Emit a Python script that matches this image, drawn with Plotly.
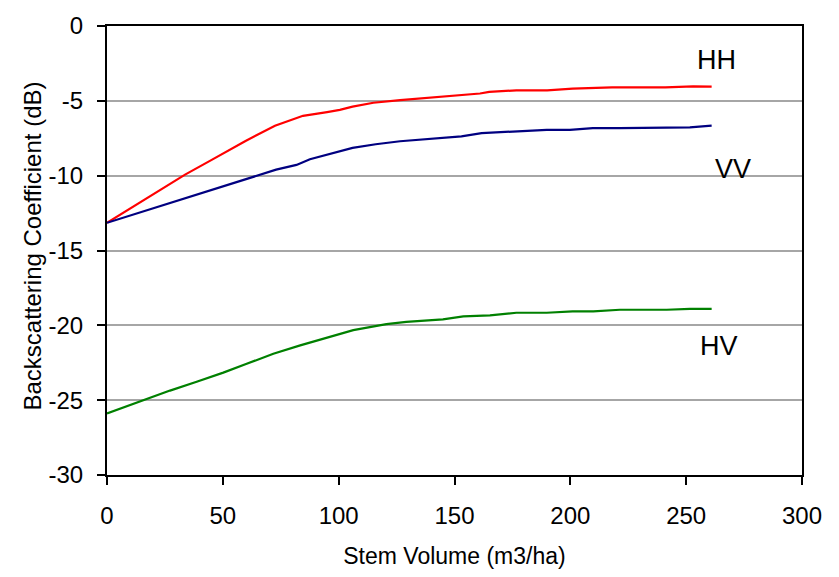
import plotly.graph_objects as go

# Stem volume (m3/ha) and backscattering (dB)
hh_x = [0, 10, 20, 33.7, 45, 59.6, 72.5, 84.6, 95, 100.5, 106, 115, 126.5, 140, 152, 161, 165, 176.7, 190, 201, 218, 241, 253, 261]
hh_y = [-13.15, -12.2, -11.24, -9.93, -8.96, -7.7, -6.66, -6.0, -5.75, -5.6, -5.39, -5.13, -4.95, -4.78, -4.6, -4.51, -4.4, -4.3, -4.3, -4.19, -4.1, -4.1, -4.03, -4.05]

vv_x = [0, 32.9, 60.3, 73, 81.8, 87.6, 106, 116, 126.5, 145, 153, 161.7, 171, 178.6, 189.8, 199.8, 209.7, 221.3, 241.6, 251.6, 261]
vv_y = [-13.15, -11.57, -10.26, -9.6, -9.28, -8.9, -8.14, -7.9, -7.7, -7.49, -7.38, -7.16, -7.09, -7.05, -6.94, -6.94, -6.83, -6.83, -6.77, -6.77, -6.66]

hv_x = [0, 15.7, 27.2, 38.7, 50.2, 60.3, 71.8, 83.4, 89.1, 99.2, 106.3, 120.6, 129.2, 145, 153.8, 165.3, 176.7, 189.8, 201, 209.9, 221.4, 241.6, 251.6, 261]
hv_y = [-25.89, -25.0, -24.36, -23.77, -23.16, -22.57, -21.9, -21.34, -21.08, -20.6, -20.32, -19.92, -19.77, -19.6, -19.4, -19.33, -19.16, -19.16, -19.07, -19.07, -18.96, -18.96, -18.9, -18.9]

x_ticks = [0, 50, 100, 150, 200, 250, 300]
y_ticks = [0, -5, -10, -15, -20, -25, -30]
y_tick_text = ["0", "-5", "-10", "-15", "-20", "-25", "-30"]

labels = ["HH", "VV", "HV"]
label_x = [263, 270, 264]
label_y = [-2.3, -9.55, -21.4]

font = "Liberation Sans, Arial, sans-serif"

fig = go.Figure()
fig.add_trace(go.Scatter(x=hh_x, y=hh_y, mode="lines", line=dict(color="#FF0000", width=2.2), name="HH"))
fig.add_trace(go.Scatter(x=vv_x, y=vv_y, mode="lines", line=dict(color="#000080", width=2.2), name="VV"))
fig.add_trace(go.Scatter(x=hv_x, y=hv_y, mode="lines", line=dict(color="#008000", width=2.2), name="HV"))

for t, lx, ly in zip(labels, label_x, label_y):
    fig.add_annotation(x=lx, y=ly, text=t, showarrow=False, xref="x", yref="y",
                       font=dict(family=font, size=27, color="black"))

# y-axis title
fig.add_annotation(x=-0.1065, y=0.511, xref="paper", yref="paper", text="Backscattering Coefficient (dB)",
                   textangle=-90, showarrow=False, xanchor="center", yanchor="middle",
                   font=dict(family=font, size=24, color="black"))

fig.update_layout(
    width=839, height=577,
    margin=dict(l=107, r=37, t=18, b=101),
    plot_bgcolor="white", paper_bgcolor="white",
    showlegend=False,
    font=dict(family=font, color="black"),
)
fig.update_xaxes(
    range=[0, 300], tickvals=x_ticks,
    showgrid=False, zeroline=False,
    showline=True, linecolor="black", linewidth=2, mirror=True,
    ticks="outside", ticklen=8, tickwidth=1.5, tickcolor="black",
    ticklabelstandoff=10,
    tickfont=dict(size=24, family=font),
    title=dict(text="Stem Volume (m3/ha)", font=dict(size=23, family=font), standoff=20),
)
fig.update_yaxes(
    range=[-30, 0], tickvals=y_ticks, ticktext=y_tick_text,
    showgrid=True, gridcolor="#A6A6A6", gridwidth=1.5, zeroline=False,
    showline=True, linecolor="black", linewidth=2, mirror=True,
    ticks="outside", ticklen=8, tickwidth=1.5, tickcolor="black",
    ticklabelstandoff=9,
    tickfont=dict(size=24, family=font),
)

fig.write_html("out.html")
